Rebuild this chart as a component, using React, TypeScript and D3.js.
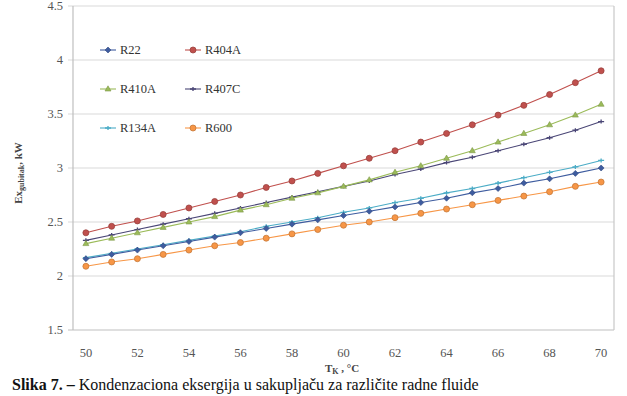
import React from 'react'
import * as d3 from 'd3'

const temps = [50, 51, 52, 53, 54, 55, 56, 57, 58, 59, 60, 61, 62, 63, 64, 65, 66, 67, 68, 69, 70]
const xTickLabels = [50, 52, 54, 56, 58, 60, 62, 64, 66, 68, 70]
const yTicks = [1.5, 2, 2.5, 3, 3.5, 4, 4.5]

const r22 = [2.16, 2.2, 2.24, 2.28, 2.32, 2.36, 2.4, 2.44, 2.48, 2.52, 2.56, 2.6, 2.64, 2.68, 2.72, 2.77, 2.81, 2.86, 2.9, 2.95, 3.0]
const r404a = [2.4, 2.46, 2.51, 2.57, 2.63, 2.69, 2.75, 2.82, 2.88, 2.95, 3.02, 3.09, 3.16, 3.24, 3.32, 3.4, 3.49, 3.58, 3.68, 3.79, 3.9]
const r410a = [2.3, 2.35, 2.4, 2.45, 2.5, 2.55, 2.61, 2.66, 2.72, 2.77, 2.83, 2.89, 2.96, 3.02, 3.09, 3.16, 3.24, 3.32, 3.4, 3.49, 3.59]
const r407c = [2.33, 2.38, 2.43, 2.48, 2.53, 2.58, 2.63, 2.68, 2.73, 2.78, 2.83, 2.88, 2.94, 2.99, 3.05, 3.1, 3.16, 3.22, 3.28, 3.35, 3.43]
const r134a = [2.17, 2.21, 2.25, 2.29, 2.33, 2.37, 2.41, 2.46, 2.5, 2.54, 2.59, 2.63, 2.68, 2.72, 2.77, 2.81, 2.86, 2.91, 2.96, 3.01, 3.07]
const r600 = [2.09, 2.13, 2.16, 2.2, 2.24, 2.28, 2.31, 2.35, 2.39, 2.43, 2.47, 2.5, 2.54, 2.58, 2.62, 2.66, 2.7, 2.74, 2.78, 2.83, 2.87]

type Series = { name: string; values: number[]; color: string; marker: string }

// drawing order: back to front
const series: Series[] = [
    { name: 'R600', values: r600, color: '#f79646', marker: 'circle' },
    { name: 'R134A', values: r134a, color: '#4bacc6', marker: 'dash' },
    { name: 'R22', values: r22, color: '#3e5c9f', marker: 'diamond' },
    { name: 'R407C', values: r407c, color: '#4a4676', marker: 'dash' },
    { name: 'R410A', values: r410a, color: '#9bbb59', marker: 'triangle' },
    { name: 'R404A', values: r404a, color: '#c0504d', marker: 'circle' },
]

const legendRows = [['R22', 'R404A'], ['R410A', 'R407C'], ['R134A', 'R600']]

const W = 627
const H = 396
const plot = { left: 73, right: 614, top: 6, bottom: 330 }

function Marker({ type, x, y, color }: { type: string; x: number; y: number; color: string }) {
    const dark = d3.color(color)!.darker(0.6).toString()
    if (type === 'circle') return <circle cx={x} cy={y} r={3} fill={color} stroke={dark} strokeWidth={0.8} />
    if (type === 'diamond') return <path d={`M${x},${y - 3}L${x + 3},${y}L${x},${y + 3}L${x - 3},${y}Z`} fill={color} stroke={dark} strokeWidth={0.6} />
    if (type === 'triangle') return <path d={`M${x},${y - 3.2}L${x + 3},${y + 2}L${x - 3},${y + 2}Z`} fill={color} stroke={dark} strokeWidth={0.6} />
    return <path d={`M${x - 3},${y}L${x + 3},${y}M${x},${y - 2}L${x},${y + 2}`} stroke={color} strokeWidth={1.3} />
}

export default function App() {
    const x = d3.scaleBand<number>().domain(temps).range([plot.left, plot.right])
    const cx = (t: number) => (x(t) || 0) + x.bandwidth() / 2
    const y = d3.scaleLinear().domain([1.5, 4.5]).range([plot.bottom, plot.top])

    const line = d3.line<number>()
        .x((_, i) => cx(temps[i]))
        .y(d => y(d))

    const byName = new Map(series.map(s => [s.name, s]))
    const font = "'Liberation Serif', 'Times New Roman', 'DejaVu Serif', serif"

    return (
        <svg width={W} height={H} viewBox={`0 0 ${W} ${H}`} style={{ position: 'absolute', left: 0, top: 0, background: '#fff', fontFamily: font }}>
            {/* grid */}
            {yTicks.map(t => (
                <line key={t} x1={plot.left - 5} x2={plot.right} y1={y(t)} y2={y(t)} stroke={t === 1.5 ? '#bfbfbf' : '#d9d9d9'} strokeWidth={1.2} />
            ))}
            <line x1={plot.left} x2={plot.left} y1={plot.top} y2={plot.bottom} stroke="#bfbfbf" strokeWidth={1.2} />
            <line x1={plot.right} x2={plot.right} y1={plot.top} y2={plot.bottom} stroke="#c8c8c8" strokeWidth={1.2} />

            {/* y tick labels */}
            {yTicks.map(t => (
                <text key={t} x={plot.left - 10} y={y(t) + 4} textAnchor="end" fontSize={12.5} fill="#555">{t}</text>
            ))}

            {/* x tick labels */}
            {xTickLabels.map(t => (
                <text key={t} x={cx(t)} y={357} textAnchor="middle" fontSize={12.5} fill="#555">{t}</text>
            ))}

            {/* axis titles */}
            <text x={342} y={372} textAnchor="middle" fontSize={11} fontWeight="bold" fill="#444">
                T<tspan fontSize={8} dy={2}>K</tspan><tspan dy={-2}> , °C</tspan>
            </text>
            <text transform={`translate(22,${(plot.top + plot.bottom) / 2 + 5}) rotate(-90)`} textAnchor="middle" fontSize={11} fontWeight="bold" fill="#444">
                Ex<tspan fontSize={8} dy={2}>gubitak</tspan><tspan dy={-2}>, kW</tspan>
            </text>

            {/* series */}
            {series.map(s => (
                <g key={s.name}>
                    <path d={line(s.values) || ''} fill="none" stroke={s.color} strokeWidth={1.1} />
                    {s.values.map((v, i) => (
                        <Marker key={i} type={s.marker} x={cx(temps[i])} y={y(v)} color={s.color} />
                    ))}
                </g>
            ))}

            {/* legend */}
            {legendRows.map((row, ri) => row.map((name, ci) => {
                const s = byName.get(name)!
                const lx = 100 + ci * 85
                const ly = 50 + ri * 39
                return (
                    <g key={name}>
                        <line x1={lx} x2={lx + 16} y1={ly} y2={ly} stroke={s.color} strokeWidth={1.1} />
                        <Marker type={s.marker} x={lx + 8} y={ly} color={s.color} />
                        <text x={lx + 20} y={ly + 4} fontSize={12.5} fill="#333">{name}</text>
                    </g>
                )
            }))}

            {/* caption */}
            <text x={12} y={390} fontSize={16} fill="#111">
                <tspan fontWeight="bold">Slika 7. – </tspan>Kondenzaciona eksergija u sakupljaču za različite radne fluide
            </text>
        </svg>
    )
}
